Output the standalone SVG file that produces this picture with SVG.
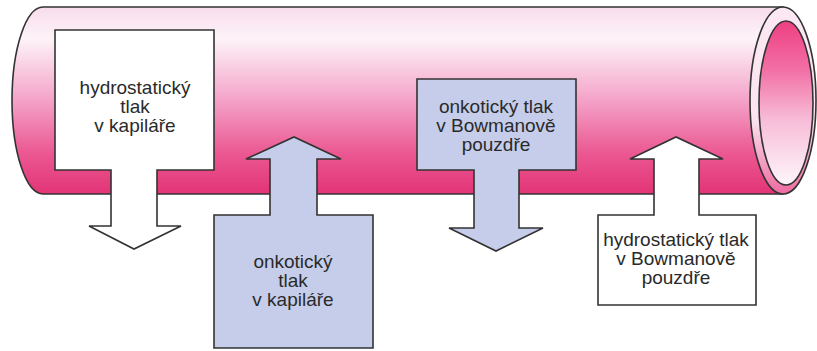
<svg xmlns="http://www.w3.org/2000/svg" width="817" height="351" viewBox="0 0 817 351">
<defs>
<linearGradient id="tubeGrad" gradientUnits="userSpaceOnUse" x1="0" y1="7" x2="0" y2="194">
<stop offset="0" stop-color="#f8dcec"/>
<stop offset="0.17" stop-color="#fdf3f8"/>
<stop offset="0.5" stop-color="#f4a2c8"/>
<stop offset="0.78" stop-color="#eb5892"/>
<stop offset="1" stop-color="#e23476"/>
</linearGradient>
<linearGradient id="ringGrad" gradientUnits="userSpaceOnUse" x1="0" y1="7" x2="0" y2="194">
<stop offset="0" stop-color="#fbe8f2"/>
<stop offset="0.6" stop-color="#fbe4ef"/>
<stop offset="1" stop-color="#ee6aa0"/>
</linearGradient>
<linearGradient id="innerGrad" gradientUnits="userSpaceOnUse" x1="0" y1="21" x2="0" y2="185">
<stop offset="0" stop-color="#ee3f83"/>
<stop offset="0.3" stop-color="#f270a5"/>
<stop offset="0.6" stop-color="#f7bcd8"/>
<stop offset="1" stop-color="#fef6fa"/>
</linearGradient>
</defs>
<style>
.outline{stroke:#333;stroke-width:1.6;stroke-linejoin:miter}
.white{fill:#ffffff}
.blue{fill:#c5cdeb}
text{font-family:"Liberation Sans",Arial,sans-serif;font-size:19px;fill:#2a2a2a;text-anchor:middle}
</style>
<g id="tube">
<path class="outline" fill="url(#tubeGrad)" d="M783,7 L43,7 A31,93.5 0 0 0 43,194 L783,194 Z"/>
<ellipse class="outline" fill="url(#ringGrad)" cx="783" cy="100.5" rx="33" ry="93.5"/>
<ellipse class="outline" fill="url(#innerGrad)" cx="786" cy="103" rx="27" ry="82"/>
</g>
<g id="connectors"></g>
<g id="node-hydro-kapilara">
<path class="outline white" d="M55,30 L214,30 L214,170 L157,170 L157,226 L181,226 L134,249 L89,226 L111,226 L111,170 L55,170 Z"/>
<text x="135" y="94">hydrostatický</text>
<text x="135" y="113">tlak</text>
<text x="135" y="132">v kapiláře</text>
</g>
<g id="node-onko-kapilara">
<path class="outline blue" d="M214,215 L270,215 L270,159 L246,159 L294,137 L341,159 L317,159 L317,215 L373,215 L373,348 L214,348 Z"/>
<text x="293" y="268">onkotický</text>
<text x="293" y="287">tlak</text>
<text x="293" y="306">v kapiláře</text>
</g>
<g id="node-onko-bowman">
<path class="outline blue" d="M417,79 L576,79 L576,170 L519,170 L519,228 L543,228 L496,251 L449,228 L474,228 L474,170 L417,170 Z"/>
<text x="496" y="113">onkotický tlak</text>
<text x="496" y="132">v Bowmanově</text>
<text x="496" y="151">pouzdře</text>
</g>
<g id="node-hydro-bowman">
<path class="outline white" d="M598,215 L654,215 L654,159 L630,159 L676,137 L723,159 L699,159 L699,215 L756,215 L756,305 L598,305 Z"/>
<text x="676" y="246">hydrostatický tlak</text>
<text x="676" y="265">v Bowmanově</text>
<text x="676" y="284">pouzdře</text>
</g>
</svg>
